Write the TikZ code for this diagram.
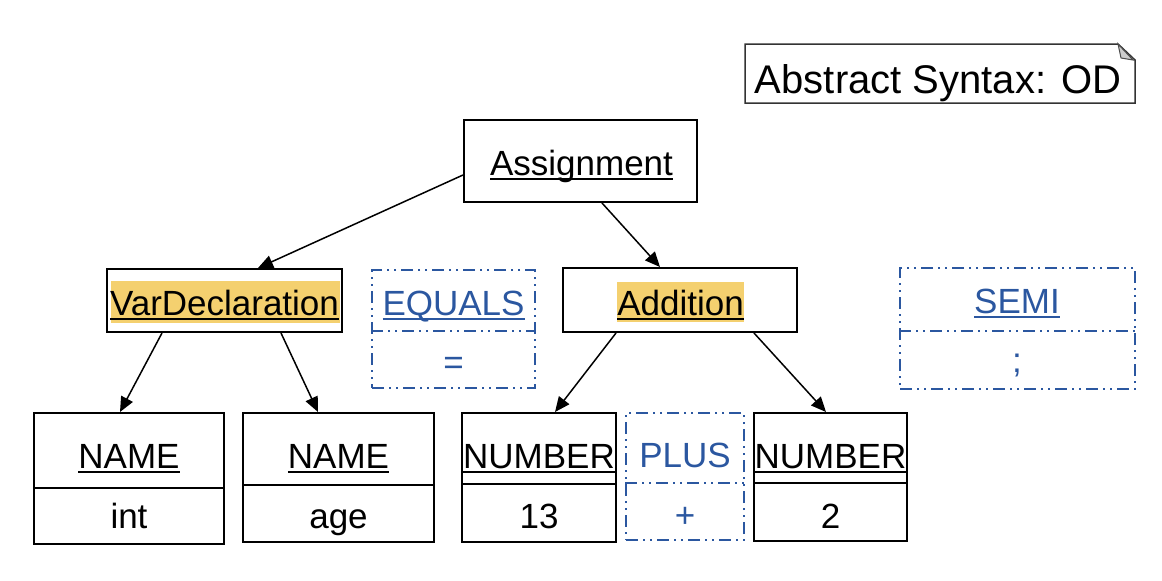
\documentclass[tikz,border=0pt]{standalone}
\usepackage{fontspec}
\setmainfont{Liberation Sans}
\usetikzlibrary{arrows.meta}
\definecolor{tokblue}{RGB}{43,87,160}
\definecolor{hlyellow}{RGB}{244,208,111}
\newsavebox{\ulbox}
\newcommand{\ul}[1]{\sbox{\ulbox}{#1}\rlap{\rule[-2.6pt]{\wd\ulbox}{0.9pt}}\usebox{\ulbox}}

\begin{document}
\begin{tikzpicture}[x=0.5pt, y=-0.5pt,
    box/.style={draw, line width=1pt, inner sep=0pt},
    tokbox/.style={draw=tokblue, line width=1pt, inner sep=0pt,
      dash pattern=on 6pt off 2.5pt on 1pt off 2.5pt on 1pt off 2.5pt},
    lbl/.style={anchor=base, inner sep=0pt, font=\fontsize{17.5}{21}\selectfont},
    toklbl/.style={lbl, text=tokblue},
    arr/.style={-{Triangle[length=7.5pt,width=6.5pt]}, line width=0.75pt}]
  \useasboundingbox (0,0) rectangle (1162,580);

  % title note
  \draw[line width=0.75pt, draw=black!80] (745,44) -- (1118,44) -- (1135,60) -- (1135,103) -- (745,103) -- cycle;
  \filldraw[fill=black!20, draw=black!70, line width=0.5pt] (1118,44) -- (1133,60) -- (1121,58) -- cycle;
  \node[lbl, font=\fontsize{20}{24}\selectfont] (title) at (938,93) {Abstract Syntax: OD};

  % highlights
  \fill[hlyellow] (111,281) rectangle (340,323);
  \fill[hlyellow] (617,282) rectangle (744,322);

  % objects
  \node[box, minimum width=116.5pt, minimum height=41pt] (assign) at (580.5,161) {};
  \node[box, minimum width=117.5pt, minimum height=31.5pt] (vardecl) at (224.5,300.5) {};
  \node[box, minimum width=117pt, minimum height=32pt] (addition) at (680,300) {};
  \node[tokbox, minimum width=81.5pt, minimum height=59pt] (equals) at (453.5,329) {};
  \node[tokbox, minimum width=117.5pt, minimum height=60.5pt] (semi) at (1017.5,328.5) {};
  \node[box, minimum width=95pt, minimum height=65.5pt] (name1) at (129,478.5) {};
  \node[box, minimum width=95.5pt, minimum height=64.5pt] (name2) at (338.5,477.5) {};
  \node[box, minimum width=77pt, minimum height=64.5pt] (num1) at (539,477.5) {};
  \node[tokbox, minimum width=59pt, minimum height=63.5pt] (plus) at (685,476.5) {};
  \node[box, minimum width=76.5pt, minimum height=64pt] (num2) at (830.5,477) {};

  % split lines
  \draw[tokbox] (equals.west |- 0,331) -- (equals.east |- 0,331);
  \draw[tokbox] (semi.west |- 0,331) -- (semi.east |- 0,331);
  \draw[line width=1pt] (name1.west |- 0,488) -- (name1.east |- 0,488);
  \draw[line width=1pt] (name2.west |- 0,485) -- (name2.east |- 0,485);
  \draw[line width=1pt] (num1.west |- 0,484) -- (num1.east |- 0,484);
  \draw[tokbox] (plus.west |- 0,483) -- (plus.east |- 0,483);
  \draw[line width=1pt] (num2.west |- 0,483) -- (num2.east |- 0,483);

  % labels
  \node[lbl] (assigntxt) at (581.5,175) {\ul{Assignment}};
  \node[lbl] (vardecltxt) at (224.5,315) {\ul{VarDeclaration}};
  \node[lbl] (additiontxt) at (680.5,315) {\ul{Addition}};
  \node[toklbl] (equalstxt) at (453.5,315) {\ul{EQUALS}};
  \node[toklbl] (equalsval) at (453.5,374) {=};
  \node[toklbl] (semitxt) at (1017,313) {\ul{SEMI}};
  \node[toklbl] (semival) at (1017,372) {;};
  \node[lbl] (name1txt) at (129,468) {\ul{NAME}};
  \node[lbl] (name1val) at (129,528) {int};
  \node[lbl] (name2txt) at (338.5,468) {\ul{NAME}};
  \node[lbl] (name2val) at (338.5,528) {age};
  \node[lbl] (num1txt) at (539,468) {\ul{NUMBER}};
  \node[lbl] (num1val) at (539,528) {13};
  \node[toklbl] (plustxt) at (685,467) {PLUS};
  \node[toklbl] (plusval) at (685,527) {+};
  \node[lbl] (num2txt) at (830.5,468) {\ul{NUMBER}};
  \node[lbl] (num2val) at (830.5,528) {2};

  % links
  \draw[arr] ([yshift=-7pt]assign.west) -- ([xshift=16.75pt]vardecl.north);
  \draw[arr] ([xshift=10.75pt]assign.south) -- ([xshift=-10pt]addition.north);
  \draw[arr] ([xshift=-31.25pt]vardecl.south) -- ([xshift=-4.5pt]name1.north);
  \draw[arr] ([xshift=28.25pt]vardecl.south) -- ([xshift=-10.25pt]name2.north);
  \draw[arr] ([xshift=-32pt]addition.south) -- ([xshift=8pt]num1.north);
  \draw[arr] ([xshift=37pt]addition.south) -- ([xshift=-2.25pt]num2.north);
\end{tikzpicture}
\end{document}
